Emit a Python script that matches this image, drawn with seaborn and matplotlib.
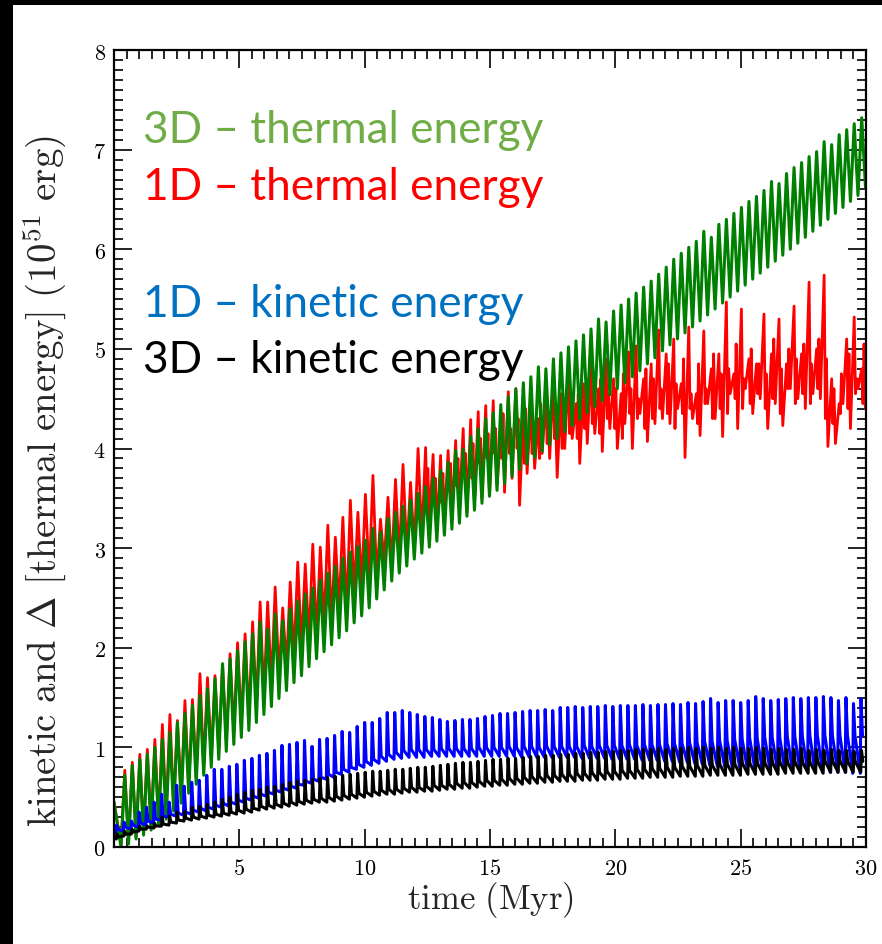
import numpy as np
import pandas as pd
import matplotlib
matplotlib.use("Agg")
import matplotlib.pyplot as plt
from matplotlib.patches import Rectangle
from matplotlib.ticker import MultipleLocator, FixedLocator, FuncFormatter
import seaborn as sns

# ---------------------------------------------------------------- data
PERIOD = 0.3      # oscillation period of the remnant (Myr)
N_CYC = 100

# 3D thermal energy: minimum and maximum of each oscillation
green_trough = [
    0.00, 0.03, 0.08, 0.12, 0.17, 0.22, 0.28, 0.36, 0.44, 0.54,
    0.63, 0.72, 0.80, 0.88, 0.96, 1.03, 1.10, 1.17, 1.25, 1.33,
    1.41, 1.49, 1.57, 1.65, 1.72, 1.81, 1.89, 1.96, 2.03, 2.10,
    2.17, 2.25, 2.32, 2.40, 2.49, 2.58, 2.67, 2.75, 2.82, 2.89,
    2.95, 3.01, 3.07, 3.13, 3.19, 3.25, 3.32, 3.38, 3.45, 3.52,
    3.58, 3.65, 3.72, 3.79, 3.85, 3.91, 3.97, 4.04, 4.10, 4.17,
    4.23, 4.29, 4.36, 4.42, 4.48, 4.54, 4.60, 4.66, 4.72, 4.78,
    4.85, 4.91, 4.98, 5.04, 5.10, 5.16, 5.22, 5.28, 5.34, 5.40,
    5.46, 5.52, 5.58, 5.64, 5.70, 5.76, 5.82, 5.88, 5.94, 6.00,
    6.06, 6.12, 6.18, 6.24, 6.30, 6.36, 6.42, 6.48, 6.54, 6.62,
]
green_peak = [
    0.72, 0.82, 0.88, 0.93, 1.00, 1.08, 1.15, 1.25, 1.34, 1.42,
    1.52, 1.59, 1.69, 1.84, 1.89, 1.97, 2.06, 2.14, 2.26, 2.19,
    2.34, 2.27, 2.39, 2.47, 2.54, 2.60, 2.68, 2.75, 2.82, 2.90,
    2.96, 3.02, 3.08, 3.20, 3.16, 3.30, 3.36, 3.42, 3.48, 3.55,
    3.62, 3.70, 3.78, 3.86, 3.98, 3.99, 4.12, 4.20, 4.30, 4.36,
    4.44, 4.52, 4.60, 4.66, 4.72, 4.82, 4.80, 4.90, 4.96, 5.02,
    5.08, 5.14, 5.20, 5.30, 5.27, 5.38, 5.44, 5.50, 5.56, 5.62,
    5.68, 5.75, 5.82, 5.90, 5.96, 6.02, 6.08, 6.18, 6.12, 6.25,
    6.30, 6.36, 6.42, 6.48, 6.53, 6.59, 6.68, 6.66, 6.76, 6.82,
    6.87, 6.93, 6.98, 7.08, 7.05, 7.15, 7.20, 7.26, 7.32, 7.35,
]

# 1D thermal energy
red_trough = [
    0.02, 0.05, 0.10, 0.15, 0.20, 0.26, 0.33, 0.42, 0.50, 0.60,
    0.70, 0.80, 0.88, 0.97, 1.06, 1.14, 1.22, 1.30, 1.40, 1.50,
    1.62, 1.72, 1.80, 1.90, 2.00, 2.06, 2.10, 2.22, 2.25, 2.39,
    2.35, 2.52, 2.62, 2.70, 2.68, 2.86, 2.80, 2.89, 2.95, 3.00,
    3.10, 3.26, 3.15, 3.25, 3.30, 3.40, 3.36, 3.46, 3.50, 3.53,
    3.63, 3.56, 3.70, 3.43, 3.75, 3.80, 3.95, 3.90, 3.71, 4.00,
    4.10, 3.85, 4.05, 4.15, 3.97, 4.20, 4.00, 4.25, 4.00, 4.35,
    4.07, 4.25, 4.30, 4.25, 4.40, 3.91, 4.30, 4.13, 4.45, 4.30,
    4.12, 4.55, 4.20, 4.60, 4.35, 4.50, 4.20, 4.45, 4.23, 4.60,
    4.50, 4.40, 4.55, 4.50, 4.02, 4.05, 4.45, 4.20, 4.60, 4.40,
]
red_peak = [
    0.77, 0.85, 0.93, 0.98, 1.08, 1.23, 1.33, 1.27, 1.47, 1.48,
    1.74, 1.70, 1.72, 1.82, 1.94, 2.05, 2.14, 2.26, 2.46, 2.46,
    2.61, 2.40, 2.66, 2.86, 2.84, 3.04, 3.01, 3.23, 3.11, 3.31,
    3.48, 3.36, 3.54, 3.73, 3.29, 3.51, 3.69, 3.84, 3.66, 4.00,
    4.01, 3.94, 3.93, 3.98, 4.08, 4.20, 4.29, 4.37, 4.43, 4.48,
    4.15, 4.57, 4.60, 4.35, 4.45, 4.30, 4.52, 4.70, 4.55, 4.77,
    4.45, 4.65, 4.87, 4.60, 4.90, 4.70, 4.55, 4.97, 5.03, 4.70,
    4.85, 5.19, 4.95, 5.10, 4.65, 5.22, 4.55, 5.18, 4.80, 4.95,
    5.47, 4.75, 5.40, 4.90, 4.85, 5.35, 4.95, 5.30, 4.85, 5.43,
    4.95, 5.67, 5.00, 5.74, 4.70, 4.45, 5.10, 5.32, 4.80, 5.25,
]
# secondary dip and bump inside each period, from cycle 40 on (t > 12 Myr)
RED_SUB_FROM = 40
red_dip = [
    3.55, 3.50, 3.45, 3.60, 3.62, 3.75, 3.70, 3.85, 3.90, 3.95,
    3.90, 3.95, 4.00, 3.85, 3.95, 3.90, 4.05, 4.10, 4.00, 4.15,
    4.10, 4.20, 4.25, 4.15, 4.30, 4.20, 4.10, 4.35, 4.30, 4.20,
    4.30, 4.40, 4.35, 4.20, 4.35, 4.40, 4.25, 4.45, 4.30, 4.40,
    4.35, 4.50, 4.40, 4.45, 4.55, 4.40, 4.50, 4.35, 4.60, 4.45,
    4.55, 4.45, 4.60, 4.30, 4.25, 4.35, 4.40, 4.55, 4.45, 4.50,
]
red_bump = [
    3.80, 3.70, 3.75, 3.85, 3.90, 3.95, 4.05, 4.10, 4.15, 4.20,
    4.35, 4.20, 4.30, 4.40, 4.20, 4.45, 4.35, 4.25, 4.50, 4.40,
    4.55, 4.50, 4.45, 4.70, 4.55, 4.60, 4.75, 4.60, 4.50, 4.80,
    4.70, 4.60, 4.85, 4.65, 4.90, 4.55, 4.85, 4.60, 4.95, 4.75,
    4.80, 5.05, 4.70, 5.00, 4.85, 4.75, 5.10, 4.80, 5.00, 4.90,
    5.05, 4.85, 5.10, 4.90, 4.60, 4.75, 4.95, 4.70, 5.05, 4.80,
]

# 1D kinetic energy: level before each spike, spike top, level just after
blue_floor = [
    0.14, 0.16, 0.18, 0.20, 0.22, 0.24, 0.27, 0.30, 0.31, 0.32,
    0.33, 0.35, 0.36, 0.38, 0.40, 0.41, 0.43, 0.45, 0.47, 0.49,
    0.51, 0.53, 0.55, 0.57, 0.59, 0.62, 0.64, 0.66, 0.68, 0.70,
    0.73, 0.75, 0.78, 0.80, 0.82, 0.84, 0.86, 0.88, 0.89, 0.90,
    0.90, 0.90, 0.91, 0.91, 0.91, 0.91, 0.91, 0.91, 0.91, 0.91,
    0.91, 0.91, 0.91, 0.91, 0.90, 0.90, 0.90, 0.90, 0.90, 0.90,
    0.90, 0.90, 0.89, 0.89, 0.89, 0.89, 0.88, 0.88, 0.88, 0.88,
    0.87, 0.87, 0.87, 0.86, 0.86, 0.85, 0.85, 0.84, 0.83, 0.82,
    0.81, 0.80, 0.79, 0.79, 0.78, 0.78, 0.77, 0.77, 0.77, 0.76,
    0.76, 0.76, 0.76, 0.75, 0.75, 0.75, 0.75, 0.75, 0.74, 0.74,
]
blue_peak = [
    0.22, 0.25, 0.26, 0.35, 0.40, 0.45, 0.53, 0.45, 0.62, 0.61,
    0.65, 0.67, 0.72, 0.78, 0.78, 0.81, 0.83, 0.87, 0.89, 0.92,
    0.94, 0.97, 1.02, 1.03, 1.05, 1.07, 1.01, 1.08, 1.09, 1.12,
    1.16, 1.15, 1.21, 1.25, 1.25, 1.29, 1.35, 1.35, 1.37, 1.35,
    1.33, 1.31, 1.30, 1.28, 1.26, 1.27, 1.28, 1.28, 1.29, 1.31,
    1.32, 1.34, 1.34, 1.35, 1.36, 1.37, 1.37, 1.38, 1.37, 1.40,
    1.40, 1.41, 1.40, 1.41, 1.41, 1.42, 1.41, 1.42, 1.42, 1.42,
    1.43, 1.42, 1.43, 1.43, 1.44, 1.43, 1.45, 1.44, 1.46, 1.49,
    1.45, 1.47, 1.47, 1.45, 1.47, 1.51, 1.49, 1.47, 1.48, 1.49,
    1.50, 1.49, 1.50, 1.50, 1.51, 1.50, 1.47, 1.50, 1.44, 1.49,
]
blue_after = [
    0.18, 0.20, 0.22, 0.24, 0.26, 0.28, 0.31, 0.33, 0.34, 0.35,
    0.37, 0.39, 0.40, 0.42, 0.44, 0.45, 0.47, 0.49, 0.51, 0.53,
    0.55, 0.57, 0.59, 0.61, 0.63, 0.66, 0.68, 0.70, 0.73, 0.75,
    0.78, 0.80, 0.83, 0.86, 0.88, 0.91, 0.93, 0.95, 0.97, 0.98,
    0.98, 0.98, 0.98, 0.99, 0.99, 0.99, 0.99, 0.99, 1.00, 1.00,
    1.00, 1.00, 1.01, 1.00, 1.01, 1.01, 1.00, 1.01, 1.01, 1.01,
    1.01, 1.01, 1.02, 1.01, 1.02, 1.02, 1.02, 1.02, 1.03, 1.02,
    1.03, 1.03, 1.03, 1.04, 1.04, 1.04, 1.05, 1.05, 1.06, 1.06,
    1.07, 1.07, 1.08, 1.08, 1.09, 1.09, 1.10, 1.10, 1.10, 1.11,
    1.11, 1.11, 1.12, 1.12, 1.12, 1.12, 1.12, 1.12, 1.12, 1.12,
]

# 3D kinetic energy
black_floor = [
    0.08, 0.11, 0.13, 0.16, 0.18, 0.19, 0.21, 0.22, 0.24, 0.26,
    0.27, 0.28, 0.29, 0.30, 0.31, 0.32, 0.33, 0.34, 0.35, 0.37,
    0.38, 0.39, 0.40, 0.41, 0.42, 0.43, 0.44, 0.45, 0.45, 0.46,
    0.47, 0.48, 0.49, 0.50, 0.51, 0.52, 0.53, 0.53, 0.54, 0.55,
    0.55, 0.56, 0.56, 0.57, 0.58, 0.58, 0.59, 0.59, 0.60, 0.61,
    0.61, 0.62, 0.62, 0.63, 0.63, 0.64, 0.64, 0.65, 0.65, 0.66,
    0.66, 0.66, 0.67, 0.67, 0.67, 0.68, 0.68, 0.68, 0.69, 0.69,
    0.69, 0.70, 0.70, 0.70, 0.70, 0.71, 0.71, 0.71, 0.71, 0.72,
    0.72, 0.72, 0.72, 0.72, 0.73, 0.73, 0.73, 0.73, 0.73, 0.74,
    0.74, 0.74, 0.74, 0.74, 0.74, 0.75, 0.75, 0.75, 0.75, 0.75,
]
black_peak = [
    0.13, 0.16, 0.18, 0.21, 0.21, 0.24, 0.30, 0.31, 0.35, 0.36,
    0.40, 0.41, 0.43, 0.45, 0.48, 0.50, 0.53, 0.55, 0.57, 0.58,
    0.60, 0.61, 0.63, 0.65, 0.66, 0.67, 0.68, 0.69, 0.70, 0.71,
    0.72, 0.73, 0.74, 0.75, 0.76, 0.76, 0.77, 0.78, 0.78, 0.79,
    0.80, 0.80, 0.81, 0.82, 0.83, 0.84, 0.85, 0.85, 0.86, 0.87,
    0.88, 0.88, 0.89, 0.89, 0.90, 0.91, 0.91, 0.92, 0.92, 0.93,
    0.93, 0.94, 0.94, 0.95, 0.95, 0.96, 0.96, 0.97, 0.97, 0.98,
    0.98, 0.98, 0.99, 0.98, 0.99, 0.99, 1.00, 0.99, 1.00, 0.99,
    1.00, 0.99, 1.00, 0.99, 0.99, 1.00, 0.99, 0.98, 0.99, 0.98,
    0.98, 0.99, 0.97, 0.98, 0.97, 0.98, 0.97, 0.97, 0.96, 0.97,
]
black_after = [
    0.10, 0.13, 0.15, 0.18, 0.20, 0.21, 0.23, 0.25, 0.27, 0.29,
    0.30, 0.31, 0.32, 0.33, 0.34, 0.35, 0.37, 0.38, 0.39, 0.41,
    0.42, 0.43, 0.44, 0.45, 0.46, 0.47, 0.48, 0.49, 0.50, 0.51,
    0.52, 0.53, 0.54, 0.55, 0.56, 0.57, 0.58, 0.58, 0.59, 0.60,
    0.60, 0.61, 0.62, 0.62, 0.63, 0.64, 0.65, 0.65, 0.66, 0.67,
    0.67, 0.68, 0.69, 0.69, 0.70, 0.71, 0.71, 0.72, 0.72, 0.73,
    0.73, 0.74, 0.74, 0.75, 0.75, 0.76, 0.76, 0.77, 0.77, 0.78,
    0.78, 0.79, 0.79, 0.80, 0.80, 0.81, 0.81, 0.82, 0.82, 0.82,
    0.83, 0.83, 0.83, 0.84, 0.84, 0.84, 0.84, 0.85, 0.85, 0.85,
    0.85, 0.85, 0.85, 0.86, 0.86, 0.86, 0.86, 0.86, 0.86, 0.86,
]

# values at t = 0
start_values = {"green": 0.45, "red": 0.45, "blue": 0.20, "black": 0.10}

legend_lines = [
    ("3D \u2013 thermal energy", "#70AD47"),
    ("1D \u2013 thermal energy", "#FF0000"),
    ("1D \u2013 kinetic energy", "#0070C0"),
    ("3D \u2013 kinetic energy", "#000000"),
]


def oscillation(start, lows, highs, dips=None, bumps=None, sub_from=0,
                t_low=0.28, t_high=0.43, t_dip=0.48, t_bump=0.52):
    """Zig-zag curve: a minimum and a maximum per period, optionally with a
    secondary dip/bump on the way down."""
    t, v = [0.0], [start]
    for k in range(N_CYC):
        t += [t_low + PERIOD * k, t_high + PERIOD * k]
        v += [lows[k], highs[k]]
        if dips is not None and k >= sub_from:
            j = k - sub_from
            t += [t_dip + PERIOD * k, t_bump + PERIOD * k]
            v += [dips[j], bumps[j]]
    return pd.DataFrame({"time": t, "energy": v})


def spikes(start, floor, peak, after, t0=0.07, t1=0.10, t2=0.16):
    """Sharp spike once per period, relaxing back to the floor."""
    t, v = [0.0], [start]
    for k in range(N_CYC):
        t += [t0 + PERIOD * k, t1 + PERIOD * k, t2 + PERIOD * k]
        v += [floor[k], peak[k], after[k]]
    return pd.DataFrame({"time": t, "energy": v})


red_df = oscillation(start_values["red"], red_trough, red_peak,
                     red_dip, red_bump, RED_SUB_FROM)
green_df = oscillation(start_values["green"], green_trough, green_peak)
blue_df = spikes(start_values["blue"], blue_floor, blue_peak, blue_after)
black_df = spikes(start_values["black"], black_floor, black_peak, black_after,
                  t0=0.09, t1=0.12, t2=0.17)

# ---------------------------------------------------------------- figure
sns.set_style("ticks")
plt.rcParams["mathtext.fontset"] = "cm"
plt.rcParams["font.family"] = ["DejaVu Serif"]

W, H = 882, 945
fig = plt.figure(figsize=(W / 100, H / 100), dpi=100)
fig.patch.set_facecolor("white")
ax = fig.add_axes([114 / W, 1 - 848 / H, 752 / W, 797 / H])

for df, col, lw in [(red_df, "#FF0000", 2.0), (green_df, "#008000", 2.2),
                    (blue_df, "#0000FF", 2.2), (black_df, "#000000", 2.2)]:
    sns.lineplot(data=df, x="time", y="energy", sort=False, estimator=None,
                 color=col, lw=lw, ax=ax)

ax.set_xlim(0, 30)
ax.set_ylim(0, 8)

ax.xaxis.set_major_locator(FixedLocator([5, 10, 15, 20, 25, 30]))
ax.xaxis.set_minor_locator(MultipleLocator(0.5))
ax.yaxis.set_major_locator(MultipleLocator(1))
ax.yaxis.set_minor_locator(MultipleLocator(0.1))
fmt = FuncFormatter(lambda v, p: r"$%d$" % round(v))
ax.xaxis.set_major_formatter(fmt)
ax.yaxis.set_major_formatter(fmt)

ax.tick_params(which="both", direction="in", top=True, right=True,
               colors="black", width=1.2)
ax.tick_params(which="major", length=13, labelsize=16)
ax.tick_params(axis="x", which="major", pad=7)
ax.tick_params(axis="y", which="major", pad=6)
ax.tick_params(which="minor", length=6.5)
for s in ax.spines.values():
    s.set_linewidth(1.6)
    s.set_color("black")

ax.set_xlabel(r"$\mathrm{time\ (Myr)}$", fontsize=25)
ax.set_ylabel(r"$\mathrm{kinetic\ and\ }\Delta\mathrm{\ [thermal\ energy]\ (10^{51}\ erg)}$",
              fontsize=28)
ax.xaxis.set_label_coords(0.5, -0.040)
ax.xaxis.label.set_va("top")
ax.yaxis.set_label_coords(-0.092, 0.46)
ax.yaxis.label.set_va("center")

baselines = [143, 200, 317, 373]
for (txt, col), yb in zip(legend_lines, baselines):
    fig.text(143 / W, 1 - yb / H, txt, color=col, fontsize=31.8,
             family=["Lato", "DejaVu Sans"], va="baseline", ha="left")

# dark frame along the top and left edge
fig.patches.append(Rectangle((0, 1 - 6 / H), 1, 6 / H, transform=fig.transFigure,
                             facecolor="black", edgecolor="none", zorder=10))
fig.patches.append(Rectangle((0, 0), 13 / W, 1, transform=fig.transFigure,
                             facecolor="black", edgecolor="none", zorder=10))

fig.savefig("out.png", dpi=100, facecolor="white")
